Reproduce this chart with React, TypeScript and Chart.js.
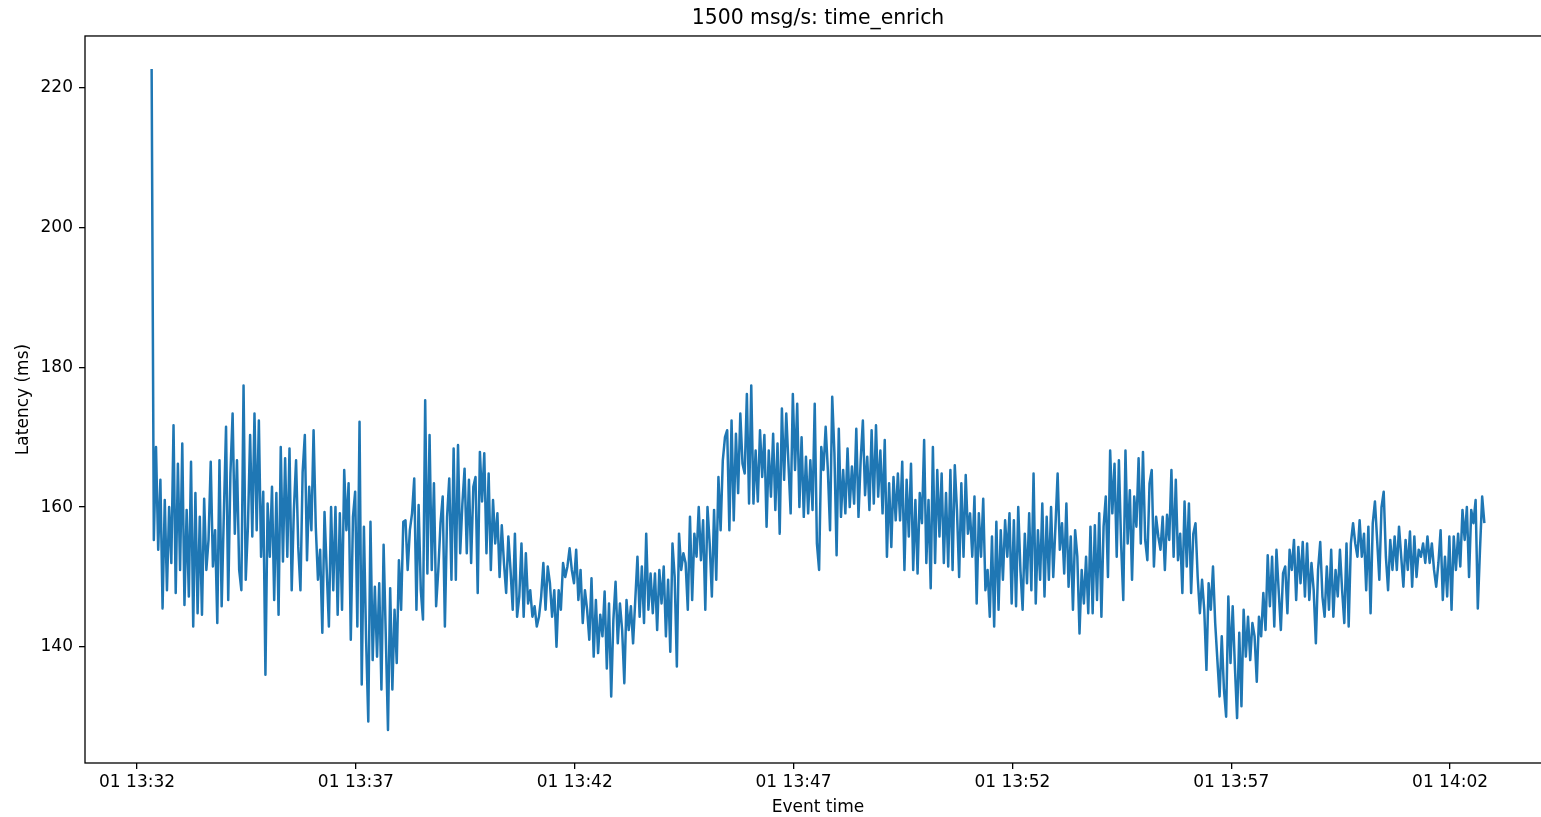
import { useEffect, useRef } from "react";
import { Chart, registerables } from "chart.js";

Chart.register(...registerables);

// Sampling: first sample at 13:32:20, one sample every 3 s (seconds counted from 13:32:00)
const START_SEC = 20;
const STEP_SEC = 3;

// Latency (ms), left to right
const seg1 = [222.7, 155.3, 168.6, 153.9, 163.9, 145.5, 161, 148.1, 160, 152, 171.7, 147.7, 166.2, 151, 169.1, 146, 159.6, 147.2, 166.5, 142.9, 162, 144.8, 158.6, 144.6, 161.2, 151, 155.3, 166.5, 151.5, 156.7, 143.4, 166.7, 145.8, 159.1, 171.5, 146.7, 164.8, 173.4, 156.2, 166.7, 151, 148.1, 177.4, 149.6, 157.2, 170.3, 155.8, 173.4, 156.7, 172.4, 152.9, 162.2, 136, 160.5, 152.9, 162.9, 146.7, 162, 144.6];
const seg2 = [168.6, 152.2, 167, 152.9, 168.4, 148.1, 159.6, 166.7, 154.3, 148.1, 165, 170.3, 152.4, 162.9, 156.7, 171, 157.2, 149.6, 153.9, 142, 159.3, 151, 142.9, 160, 148.1, 160, 144.6, 159.1, 145.3, 165.3, 156.7, 163.4, 141, 158.6, 162.2, 142.9, 172.2, 134.6, 157.2, 141, 129.3, 157.9, 138.1, 148.6, 138.6, 149.1, 133.9, 154.6, 141.5, 128.1, 148.4, 133.9, 145.3, 137.7, 152.4, 145.3, 157.9, 158.1, 151, 156.7, 159.1, 164.1];
const seg3 = [145.3, 160.3, 148.1, 143.9, 175.3, 150.5, 170.3, 151, 163.4, 145.8, 151, 157.7, 161.5, 142.9, 158.6, 164.1, 149.6, 168.4, 149.6, 168.9, 153.4, 160.5, 165.5, 153.4, 163.9, 152, 162.9, 164.3, 147.7, 167.9, 160.8, 167.7, 153.4, 164.8, 151, 161, 154.8, 159.1, 150, 157.4, 152, 147.7, 155.8, 151, 145.3, 156.2, 144.3, 147.2, 154.8, 144.3, 153.4, 146.2, 148.1, 144.3, 145.8, 142.9, 144.3, 147.2, 152, 145.3, 151.5, 149.1];
const seg4 = [144.3, 148.1, 140, 148.1, 145.3, 152, 150, 151.5, 154.1, 151, 149.1, 153.9, 146.7, 151, 143.4, 148.1, 145.3, 141, 149.8, 138.6, 146.7, 139.1, 144.6, 141.5, 147.9, 136.9, 146.2, 132.9, 143.9, 149.3, 140.5, 146.2, 142.4, 134.8, 146.7, 142.4, 145.8, 140.5, 146.7, 152.9, 144.3, 151.5, 143.4, 156.2, 145.3, 150.5, 144.8, 150.5, 142.4, 151, 146.2, 151.5, 141.5, 149.6, 139.3, 154.8, 150, 137.2, 156.2, 151, 153.4, 152];
const seg5 = [145.3, 158.6, 146.7, 156.2, 152.9, 160, 152.4, 158.1, 145.3, 160, 154.8, 147.2, 159.6, 149.6, 164.3, 156.7, 166.7, 170, 171, 156.7, 172.4, 158.1, 170.5, 162, 173.4, 166.2, 164.8, 176.2, 160.5, 177.4, 160.5, 168.1, 160.8, 171, 164.3, 170.3, 157.2, 168.1, 161.5, 170.5, 159.6, 169.1, 156.2, 174.1, 163.9, 173.4, 166.2, 159.1, 176.2, 165.3, 174.8, 160, 170, 158.6, 167.2, 159.1, 166.7, 159.6, 174.8, 154.8, 151];
const seg6 = [168.6, 165.3, 171.5, 165.3, 156.7, 175.8, 167.7, 153.1, 171.2, 158.6, 165.3, 159.1, 168.4, 160, 165.8, 160.5, 171.2, 158.6, 166.7, 172.4, 161.7, 167.2, 159.6, 171, 160.5, 171.7, 161.5, 168.1, 159.1, 169.6, 152.9, 163.4, 154.3, 164.3, 158.1, 164.8, 158.1, 166.5, 151, 163.9, 155.8, 166.2, 151, 161, 150.5, 162, 157.7, 169.6, 152, 161, 148.4, 168.6, 152, 165.3, 155.8, 164.8, 152, 162, 151.5, 165.3, 151, 166];
const seg7 = [159.6, 150, 163.4, 152.9, 164.6, 156.2, 159.1, 152.9, 161.5, 146.2, 159.1, 152.9, 161.2, 148.1, 151, 144.3, 155.8, 142.9, 157.9, 145.3, 156.7, 149.6, 158.1, 152.9, 159.1, 146.2, 158.1, 145.8, 160, 151, 145.3, 156.2, 149.1, 159.1, 148.1, 164.8, 146.2, 156.7, 149.6, 160.5, 147.2, 158.6, 149.6, 160, 150, 157.2, 164.8, 153.9, 157.7, 150.5, 160.5, 148.6, 155.8, 145.3, 156.7, 152.9, 141.9, 151, 146.2, 152.9, 144.8, 157.2];
const seg8 = [144.8, 157.4, 146.7, 159.1, 144.3, 157.2, 161.5, 150, 168.1, 159.1, 166.2, 152.9, 166.7, 154.8, 146.7, 168.1, 154.8, 162.4, 149.6, 161.5, 157.2, 167, 154.8, 167.9, 155.3, 152.4, 163.4, 165.3, 151.5, 158.6, 155.8, 153.9, 158.6, 151, 158.9, 155.3, 165.3, 152.9, 163.9, 152.4, 156.2, 147.7, 160.8, 151.5, 160.5, 147.7, 156.2, 157.7, 150, 144.8, 149.6, 145.3, 136.7, 149.1, 145.3, 151.5, 143.4, 138.1, 132.9, 141.5, 133.9];
const seg9 = [130, 147.2, 137.7, 145.8, 137.2, 129.8, 142, 131.5, 145.3, 138.6, 144.3, 138.1, 143.4, 141.5, 135, 144.3, 141.5, 147.7, 142.4, 153.1, 145.8, 152.9, 142.9, 153.9, 148.1, 142.4, 150.5, 151.5, 144.8, 153.9, 151, 155.3, 146.7, 154.3, 149.1, 155, 147.2, 154.8, 146.7, 152, 148.1, 140.5, 151, 155, 147.2, 144.3, 151.5, 145.3, 153.9, 144.3, 151, 147.2, 153.9, 148.1, 143.4, 154.8, 142.9, 154.8, 157.7, 154.8, 152.9, 158.1];
const seg10 = [152.9, 156.2, 148.1, 157.2, 144.8, 157.7, 160.8, 155.3, 149.6, 160, 162.2, 152.9, 148.1, 155.3, 151, 155.8, 151, 157.2, 152.9, 148.6, 155.3, 151, 156.5, 148.6, 155.8, 150, 153.9, 152.9, 154.8, 152, 155.8, 152, 154.8, 151, 148.6, 152, 156.7, 146.7, 152.9, 147.2, 155.8, 145.3, 155.8, 151, 156.2, 151.5, 159.6, 155.3, 160, 150, 159.6, 157.7, 161, 145.5, 153.9, 161.5, 157.7];

const latency = [...seg1, ...seg2, ...seg3, ...seg4, ...seg5, ...seg6, ...seg7, ...seg8, ...seg9, ...seg10];

// Tick positions (seconds after 13:32:00) and their labels
const xTickSeconds = [0, 300, 600, 900, 1200, 1500, 1800];
const xTickLabels = ["01 13:32", "01 13:37", "01 13:42", "01 13:47", "01 13:52", "01 13:57", "01 14:02"];
const yTickValues = [140, 160, 180, 200, 220];

const TITLE = "1500 msg/s: time_enrich";
const X_TITLE = "Event time";
const Y_TITLE = "Latency (ms)";

const framePlugin = {
  id: "frame",
  afterDraw(chart: any) {
    const { ctx, chartArea } = chart;
    const { left, top, right, bottom } = chartArea;
    ctx.save();
    ctx.strokeStyle = "#000";
    ctx.lineWidth = 1.3;
    ctx.strokeRect(left, top, right - left, bottom - top);
    ctx.restore();
  },
};

export default function App() {
  const ref = useRef<HTMLCanvasElement | null>(null);

  useEffect(() => {
    if (!ref.current) return;
    Chart.defaults.font.family = "'DejaVu Sans', sans-serif";
    const points = latency.map((v, i) => ({ x: START_SEC + i * STEP_SEC, y: v }));
    const xFirst = points[0].x;
    const xLast = points[points.length - 1].x;
    const xPad = (xLast - xFirst) * 0.05;
    const yMin = Math.min(...latency);
    const yMax = Math.max(...latency);
    const yPad = (yMax - yMin) * 0.05;

    const chart = new Chart(ref.current, {
      type: "line",
      data: {
        datasets: [
          {
            data: points,
            borderColor: "#1f77b4",
            borderWidth: 2.5,
            pointRadius: 0,
            tension: 0,
            fill: false,
            borderJoinStyle: "round",
            borderCapStyle: "butt",
          },
        ],
      },
      options: {
        responsive: false,
        maintainAspectRatio: false,
        animation: false,
        devicePixelRatio: 1,
        layout: { padding: 0 },
        plugins: {
          legend: { display: false },
          tooltip: { enabled: false },
          title: {
            display: true,
            text: TITLE,
            fullSize: false,
            color: "#000",
            font: { size: 20.4, weight: "normal", lineHeight: 1.2 },
            padding: { top: 6, bottom: 5.5 },
          },
        },
        scales: {
          x: {
            type: "linear",
            min: xFirst - xPad,
            max: xLast + xPad,
            afterBuildTicks: (scale: any) => {
              scale.ticks = xTickSeconds.map((value) => ({ value }));
            },
            afterFit: (scale: any) => {
              scale.height = 54;
            },
            ticks: {
              autoSkip: false,
              maxRotation: 0,
              color: "#000",
              padding: 3,
              font: { size: 17 },
              callback: (_v: any, index: number) => xTickLabels[index],
            },
            grid: {
              display: true,
              drawOnChartArea: false,
              drawTicks: true,
              tickLength: 6,
              lineWidth: 1.3,
              color: "#000",
            },
            border: { display: false },
            title: {
              display: true,
              text: X_TITLE,
              color: "#000",
              font: { size: 17, lineHeight: 1 },
              padding: { top: 0, bottom: 1 },
            },
          },
          y: {
            type: "linear",
            min: yMin - yPad,
            max: yMax + yPad,
            afterBuildTicks: (scale: any) => {
              scale.ticks = yTickValues.map((value) => ({ value }));
            },
            afterFit: (scale: any) => {
              scale.width = 85;
            },
            ticks: {
              color: "#000",
              padding: 6,
              font: { size: 17 },
              callback: (v: any) => String(v),
            },
            grid: {
              display: true,
              drawOnChartArea: false,
              drawTicks: true,
              tickLength: 6,
              lineWidth: 1.3,
              color: "#000",
            },
            border: { display: false },
            title: {
              display: true,
              text: Y_TITLE,
              color: "#000",
              font: { size: 17 },
              padding: { top: 13, bottom: 0 },
            },
          },
        },
      },
      plugins: [framePlugin],
    } as any);

    return () => chart.destroy();
  }, []);

  return (
    <div
      style={{
        position: "fixed",
        left: 0,
        top: 0,
        width: 1541,
        height: 817,
        overflow: "hidden",
        background: "#fff",
      }}
    >
      <canvas ref={ref} width={1551} height={817} style={{ display: "block" }} />
    </div>
  );
}
